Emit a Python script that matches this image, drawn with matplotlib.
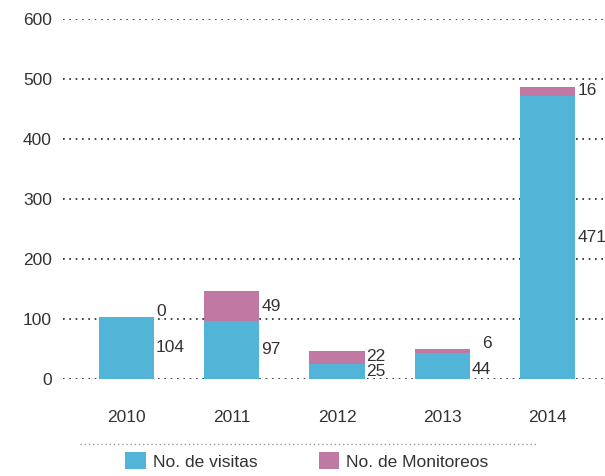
"""Visitas y monitoreos por año (barras apiladas)"""

import matplotlib.pyplot as plt
from matplotlib.lines import Line2D
import numpy as np

years = ["2010", "2011", "2012", "2013", "2014"]
visitas = [104, 97, 25, 44, 471]
monitoreos = [0, 49, 22, 6, 16]
y_ticks = [0, 100, 200, 300, 400, 500, 600]

BLUE = "#52B5D8"
PINK = "#BF79A3"
TEXT = "#333333"
FS = 12.5

plt.rcParams["font.family"] = ["Liberation Sans Narrow", "Liberation Sans", "DejaVu Sans"]
plt.rcParams["font.size"] = FS

fig = plt.figure(figsize=(6.05, 4.76), dpi=100)
ax = fig.add_axes([63 / 605, 97 / 476, 1 - 63 / 605, 360 / 476])

x = np.arange(len(years))
width = 0.5226

# dotted gridlines behind the bars
for t in y_ticks:
    ax.axhline(t, color="#222222", lw=1.2, linestyle=(0, (1, 2.8)), zorder=0)

ax.bar(x, visitas, width, color=BLUE, zorder=2, label="No. de visitas")
ax.bar(x, monitoreos, width, bottom=visitas, color=PINK, zorder=2,
       label="No. de Monitoreos")

# value labels to the right of each segment
for i in range(len(years)):
    xr = x[i] + width / 2 + 0.02
    v, m = visitas[i], monitoreos[i]
    yv = v / 2
    ym = v + m / 2
    if m < 10:
        ym = v + m + 9
    elif m < 30:
        ym += 2
        yv = min(yv, ym - 18)
    if 0 < m < 10:
        yv -= 6
    ax.text(xr, yv, str(v), ha="left", va="center", color=TEXT, fontsize=FS,
            clip_on=False)
    ax.text(xr + (0.1 if 0 < m < 10 else 0), ym, str(m), ha="left",
            va="center", color=TEXT, fontsize=FS, clip_on=False)

ax.set_xlim(-0.603, 4.546)
ax.set_ylim(0, 600)
ax.set_xticks(x)
ax.set_xticklabels(years)
ax.set_yticks(y_ticks)
ax.tick_params(axis="both", length=0, colors=TEXT, labelsize=FS)
ax.tick_params(axis="y", pad=8)
ax.tick_params(axis="x", pad=22)
for s in ax.spines.values():
    s.set_visible(False)

# separator above the legend
fig.add_artist(Line2D([80 / 605, 538 / 605], [1 - 444 / 476, 1 - 444 / 476],
                      color="#999999", lw=1.0, linestyle=(0, (1, 2))))

fig.legend(loc="center", bbox_to_anchor=(307 / 605, 1 - 461 / 476), ncol=2,
           frameon=False, handlelength=1.2, handleheight=1.09,
           handletextpad=0.4, columnspacing=3.5, fontsize=FS,
           labelcolor=TEXT)

fig.savefig("out.png", dpi=100)
